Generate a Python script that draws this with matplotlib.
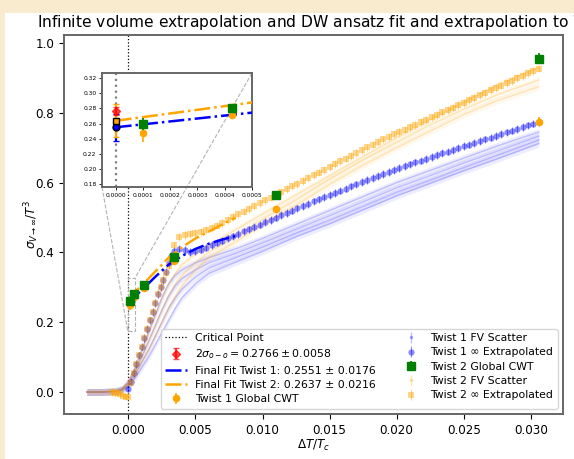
import matplotlib
matplotlib.use("Agg")
import matplotlib.pyplot as plt
from matplotlib.patches import Rectangle
from matplotlib.lines import Line2D
from matplotlib.collections import LineCollection
from matplotlib.container import ErrorbarContainer
from mpl_toolkits.axes_grid1.inset_locator import mark_inset

# ---------------- data ----------------
# infinite-volume extrapolated points (shared temperature grid)
DT_INF = [0.0000, 0.0002, 0.0004, 0.0006, 0.0008, 0.0010, 0.0012, 0.0014, 0.0016,
          0.0018, 0.0020, 0.0022, 0.0024, 0.0026, 0.0028, 0.0030, 0.0032,
          0.0034, 0.0038, 0.0042, 0.0046, 0.0050, 0.0054, 0.0058, 0.0062, 0.0066,
          0.0070, 0.0074, 0.0078, 0.0082, 0.0086, 0.0090, 0.0094, 0.0098, 0.0102,
          0.0106, 0.0110, 0.0114, 0.0118, 0.0122, 0.0126, 0.0130, 0.0134, 0.0138,
          0.0142, 0.0146, 0.0150, 0.0154, 0.0158, 0.0162, 0.0166, 0.0170, 0.0174,
          0.0178, 0.0182, 0.0186, 0.0190, 0.0194, 0.0198, 0.0202, 0.0206, 0.0210,
          0.0214, 0.0218, 0.0222, 0.0226, 0.0230, 0.0234, 0.0238, 0.0242, 0.0246,
          0.0250, 0.0254, 0.0258, 0.0262, 0.0266, 0.0270, 0.0274, 0.0278, 0.0282,
          0.0286, 0.0290, 0.0294, 0.0298, 0.0302, 0.0306]

SIG_INF_T1 = [0.010, 0.030, 0.055, 0.080, 0.105, 0.130, 0.155, 0.180, 0.205,
              0.230, 0.255, 0.280, 0.300, 0.320, 0.345, 0.370, 0.390,
              0.405, 0.411, 0.406, 0.401, 0.403, 0.408, 0.414, 0.421, 0.428,
              0.434, 0.440, 0.446, 0.453, 0.460, 0.466, 0.473, 0.480, 0.487,
              0.493, 0.500, 0.507, 0.513, 0.520, 0.526, 0.533, 0.539, 0.546,
              0.552, 0.558, 0.565, 0.571, 0.577, 0.583, 0.589, 0.595, 0.601,
              0.607, 0.613, 0.619, 0.625, 0.630, 0.636, 0.641, 0.647, 0.652,
              0.658, 0.663, 0.668, 0.674, 0.679, 0.684, 0.689, 0.694, 0.699,
              0.704, 0.709, 0.714, 0.719, 0.724, 0.729, 0.734, 0.739, 0.744,
              0.749, 0.754, 0.759, 0.764, 0.769, 0.774]

SIG_INF_T2 = [-0.015, 0.025, 0.055, 0.080, 0.105, 0.130, 0.155, 0.180, 0.205,
              0.230, 0.255, 0.280, 0.300, 0.320, 0.340, 0.360, 0.380,
              0.420, 0.445, 0.449, 0.452, 0.455, 0.459, 0.464, 0.470, 0.477,
              0.485, 0.493, 0.501, 0.509, 0.517, 0.525, 0.533, 0.541, 0.549,
              0.557, 0.565, 0.573, 0.581, 0.589, 0.597, 0.605, 0.613, 0.621,
              0.629, 0.637, 0.645, 0.653, 0.661, 0.669, 0.677, 0.685, 0.693,
              0.701, 0.709, 0.717, 0.724, 0.731, 0.738, 0.745, 0.752, 0.759,
              0.766, 0.773, 0.780, 0.787, 0.794, 0.801, 0.808, 0.815, 0.822,
              0.829, 0.836, 0.843, 0.850, 0.857, 0.864, 0.871, 0.878, 0.885,
              0.892, 0.899, 0.906, 0.913, 0.920, 0.927]

# twist 2 points slightly below the transition
DT_DIP_T2 = [-0.0012, -0.0010, -0.0008, -0.0006, -0.0004, -0.0002]
SIG_DIP_T2 = [0.000, -0.002, -0.004, -0.007, -0.010, -0.013]

ERR_INF = 0.011

# finite-volume curves
DT_FV = [-0.0031, -0.0020, -0.0010, -0.0005, 0.0000, 0.0005, 0.0010, 0.0015, 0.0020,
         0.0025, 0.0030, 0.0035, 0.0040, 0.0050, 0.0060, 0.0080, 0.0100, 0.0125,
         0.0150, 0.0175, 0.0200, 0.0225, 0.0250, 0.0275, 0.0306]

FV_T1 = [
    [0.0, 0.0, 0.002, 0.008, 0.030, 0.070, 0.120, 0.170, 0.220, 0.270, 0.310, 0.335,
     0.350, 0.370, 0.385, 0.410, 0.440, 0.480, 0.520, 0.560, 0.600, 0.635, 0.670, 0.705, 0.745],
    [0.0, 0.0, 0.002, 0.007, 0.025, 0.060, 0.100, 0.145, 0.190, 0.235, 0.275, 0.305,
     0.325, 0.350, 0.370, 0.397, 0.427, 0.466, 0.505, 0.545, 0.585, 0.620, 0.656, 0.690, 0.733],
    [0.0, 0.0, 0.002, 0.006, 0.020, 0.050, 0.085, 0.120, 0.160, 0.200, 0.240, 0.270,
     0.295, 0.330, 0.355, 0.385, 0.415, 0.455, 0.492, 0.532, 0.572, 0.607, 0.643, 0.678, 0.722],
    [0.0, 0.0, 0.002, 0.005, 0.015, 0.040, 0.070, 0.100, 0.135, 0.170, 0.205, 0.240,
     0.270, 0.310, 0.340, 0.372, 0.403, 0.445, 0.482, 0.522, 0.562, 0.598, 0.634, 0.668, 0.712],
]
FV_T2 = [
    [0.0, 0.0, 0.002, 0.008, 0.030, 0.070, 0.120, 0.170, 0.220, 0.270, 0.310, 0.340,
     0.365, 0.395, 0.420, 0.465, 0.510, 0.565, 0.620, 0.675, 0.728, 0.780, 0.830, 0.880, 0.930],
    [0.0, 0.0, 0.002, 0.007, 0.025, 0.060, 0.100, 0.145, 0.190, 0.235, 0.275, 0.310,
     0.335, 0.370, 0.400, 0.445, 0.495, 0.550, 0.610, 0.665, 0.715, 0.765, 0.810, 0.852, 0.894],
    [0.0, 0.0, 0.002, 0.006, 0.020, 0.050, 0.085, 0.120, 0.160, 0.200, 0.240, 0.275,
     0.305, 0.350, 0.385, 0.430, 0.480, 0.535, 0.595, 0.650, 0.700, 0.748, 0.795, 0.835, 0.875],
]
ERR_FV = 0.010

# global CWT estimates
DT_CWT = [0.0001, 0.000425, 0.0012, 0.0034, 0.0110, 0.0306]
CWT_T1 = [0.248, 0.272, 0.298, 0.375, 0.524, 0.775]
CWT_T1_ERR = [0.012, 0.006, 0.006, 0.008, 0.008, 0.012]
CWT_T2 = [0.260, 0.280, 0.307, 0.387, 0.565, 0.955]
CWT_T2_ERR = [0.008, 0.005, 0.006, 0.008, 0.008, 0.015]

# DW ansatz fits
DT_FIT = [0.0, 0.0005, 0.001, 0.002, 0.003, 0.004, 0.005, 0.006, 0.007, 0.008]
FIT_T1 = [0.2551, 0.2745, 0.292, 0.330, 0.365, 0.390, 0.410, 0.425, 0.437, 0.447]
FIT_T2 = [0.2637, 0.288, 0.305, 0.345, 0.385, 0.415, 0.440, 0.460, 0.480, 0.500]
FIT_T1_ERR = 0.0176
FIT_T2_ERR = 0.0216

# order-order interface tension
SIG_OO = 0.2766
SIG_OO_ERR = 0.0058

# ---------------- figure ----------------
BLUE = "blue"
ORANGE = "orange"

fig = plt.figure(figsize=(5.74, 4.59), dpi=100)
fig.patch.set_facecolor("#f9ebcd")
fig.patches.append(Rectangle((5 / 574, 0), 1, 1 - 13 / 459, transform=fig.transFigure,
                             facecolor="white", edgecolor="none", zorder=-10))

ax = fig.add_axes([64 / 574, 1 - 414 / 459, 499 / 574, 379 / 459])
axins = fig.add_axes([102 / 574, 1 - 187 / 459, 150 / 574, 114 / 459])


def fv_handle(color):
    """Legend proxy for the faint finite-volume scatter."""
    dot = Line2D([], [], ls="none", marker=".", ms=3, color=color, alpha=0.25)
    bars = LineCollection([], colors=[color], alpha=0.25, linewidths=1.0)
    return ErrorbarContainer((dot, (), (bars,)), has_xerr=False, has_yerr=True)


def draw(a, inset=False):
    h = {}
    h["crit"] = a.axvline(0.0, color="grey" if inset else "black", ls=":",
                          lw=1.6 if inset else 0.9, zorder=1)
    for ys in FV_T1:
        a.fill_between(DT_FV, [y - ERR_FV for y in ys], [y + ERR_FV for y in ys],
                       color=BLUE, alpha=0.07, lw=0, zorder=2)
        a.plot(DT_FV, ys, "-", color=BLUE, alpha=0.2, lw=1.0, zorder=2)
    for ys in FV_T2:
        a.fill_between(DT_FV, [y - ERR_FV for y in ys], [y + ERR_FV for y in ys],
                       color=ORANGE, alpha=0.07, lw=0, zorder=2)
        a.plot(DT_FV, ys, "-", color=ORANGE, alpha=0.25, lw=1.0, zorder=2)
    h["inf1"] = a.errorbar(DT_INF, SIG_INF_T1, yerr=ERR_INF, fmt="o", color=BLUE,
                           ms=4.5, alpha=0.45, capsize=2, elinewidth=0.8, mew=0, zorder=3)
    h["inf2"] = a.errorbar(DT_DIP_T2 + DT_INF, SIG_DIP_T2 + SIG_INF_T2, yerr=ERR_INF,
                           fmt="s", color=ORANGE, ms=4.5, alpha=0.45, capsize=2,
                           elinewidth=0.8, mew=0, zorder=3)
    h["fit1"], = a.plot(DT_FIT, FIT_T1, "-.", color=BLUE, lw=1.8, zorder=5)
    h["fit2"], = a.plot(DT_FIT, FIT_T2, "-.", color=ORANGE, lw=1.8, zorder=5)
    h["cwt1"] = a.errorbar(DT_CWT, CWT_T1, yerr=CWT_T1_ERR, fmt="o", color=ORANGE,
                           ms=4.5, elinewidth=1.2, zorder=6)
    h["cwt2"] = a.errorbar(DT_CWT, CWT_T2, yerr=CWT_T2_ERR, fmt="s", color="green",
                           ms=5.5, elinewidth=1.2, zorder=7)
    if inset:
        a.errorbar([0.0], [FIT_T1[0]], yerr=FIT_T1_ERR, fmt="o", color=BLUE, mec="black",
                   ms=5, capsize=2.5, zorder=8)
        a.errorbar([0.0], [FIT_T2[0]], yerr=FIT_T2_ERR, fmt="s", color=ORANGE, mec="black",
                   ms=5, capsize=2.5, zorder=8)
        h["oo"] = a.errorbar([0.0], [SIG_OO], yerr=SIG_OO_ERR, fmt="D", color="red",
                             ms=4, capsize=2.5, alpha=0.7, zorder=9)
    return h


h = draw(ax)
hi = draw(axins, inset=True)

ax.set_xlim(-0.0048, 0.0324)
ax.set_ylim(-0.063, 1.023)
ax.set_xticks([0.0, 0.005, 0.010, 0.015, 0.020, 0.025, 0.030])
ax.set_xticklabels(["0.000", "0.005", "0.010", "0.015", "0.020", "0.025", "0.030"])
ax.set_yticks([0.0, 0.2, 0.4, 0.6, 0.8, 1.0])
ax.tick_params(labelsize=8.6)
ax.set_xlabel(r"$\Delta T/T_c$", fontsize=8.6, labelpad=0.5)
ax.set_ylabel(r"$\sigma_{V\to\infty}/T^3$", fontsize=8.6, labelpad=-4)
ax.set_title(r"Infinite volume extrapolation and DW ansatz fit and extrapolation to $T_c$",
             fontsize=11.2)
for s in ax.spines.values():
    s.set_color("#666666")
    s.set_linewidth(1.4)

axins.set_xlim(-0.00005, 0.0005)
axins.set_ylim(0.176, 0.327)
axins.set_xticks([0.0, 0.0001, 0.0002, 0.0003, 0.0004, 0.0005])
axins.set_xticklabels(["0.0000", "0.0001", "0.0002", "0.0003", "0.0004", "0.0005"])
axins.set_yticks([0.18, 0.20, 0.22, 0.24, 0.26, 0.28, 0.30, 0.32])
axins.tick_params(labelsize=4.3, length=2.5, width=0.6, pad=1.5)
for s in axins.spines.values():
    s.set_color("#666666")
    s.set_linewidth(1.4)

mark_inset(ax, axins, loc1=1, loc2=3, fc="none", ec="0.7", ls="--", lw=0.8)

handles = [h["crit"], hi["oo"], h["fit1"], h["fit2"], h["cwt1"],
           fv_handle(BLUE), h["inf1"], h["cwt2"], fv_handle(ORANGE), h["inf2"]]
labels = ["Critical Point",
          r"$2\sigma_{o-o} = 0.2766 \pm 0.0058$",
          "Final Fit Twist 1: 0.2551 ± 0.0176",
          "Final Fit Twist 2: 0.2637 ± 0.0216",
          "Twist 1 Global CWT",
          "Twist 1 FV Scatter",
          "Twist 1 ∞ Extrapolated",
          "Twist 2 Global CWT",
          "Twist 2 FV Scatter",
          "Twist 2 ∞ Extrapolated"]
ax.legend(handles, labels, loc="lower right", ncol=2, fontsize=7.8, framealpha=0.8,
          labelspacing=0.4, columnspacing=2.2)

fig.savefig("out.png", dpi=100, facecolor=fig.get_facecolor())
